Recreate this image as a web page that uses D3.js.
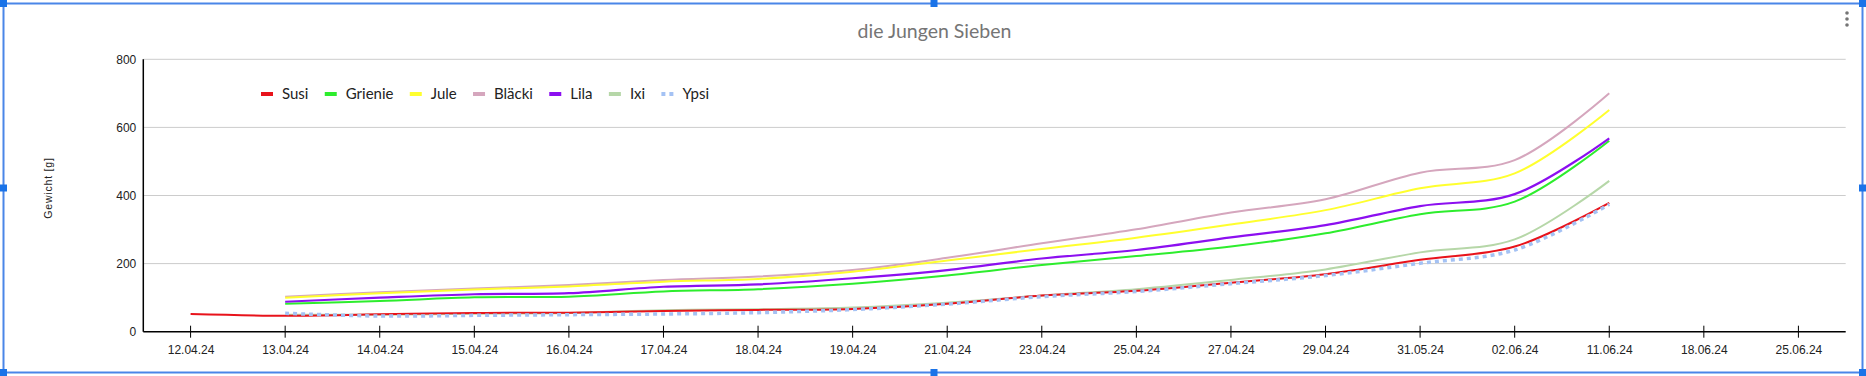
<!DOCTYPE html>
<html><head><meta charset="utf-8">
<script src="https://cdn.jsdelivr.net/npm/d3@7"></script>
<style>
html,body{margin:0;padding:0;background:#fff;}
svg{display:block;}
</style></head>
<body>
<svg id="chart" width="1866" height="376"></svg>
<script>
const categories = ["12.04.24","13.04.24","14.04.24","15.04.24","16.04.24","17.04.24","18.04.24","19.04.24","21.04.24","23.04.24","25.04.24","27.04.24","29.04.24","31.05.24","02.06.24","11.06.24","18.06.24","25.06.24"];
const yTicks = [0,200,400,600,800];
const seriesNames = ["Susi","Grienie","Jule","Bläcki","Lila","Ixi","Ypsi"];
const susi    = [52,47,51,55,56,61,64,67,82,106,120,144,169,211,250,378,null,null];
const grienie = [null,82,90,101,103,118,125,141,165,196,222,250,289,345,382,561,null,null];
const jule    = [null,100,113,124,133,147,155,176,209,243,276,315,357,421,465,651,null,null];
const blaecki = [null,103,116,127,137,152,162,181,217,260,301,350,389,467,504,700,null,null];
const lila    = [null,88,100,110,113,132,139,157,181,215,240,277,313,369,404,568,null,null];
const ixi     = [null,50,50,53,55,63,66,71,85,106,125,152,183,233,271,443,null,null];
const ypsi    = [null,54,46,48,50,52,56,65,81,103,118,141,165,201,240,374,null,null];
const seriesValues = [susi,grienie,jule,blaecki,lila,ixi,ypsi];
const colors = ["#e8131b","#2ded2d","#ffff2e","#d5a6bd","#8c0ff0","#b6d7a8","#a4c2f4"];
const widths = [2,2,2,2,2.2,2,3.5];
const dashes = [null,null,null,null,null,null,"4,4"];

const svg = d3.select("#chart");
const L = 143.3, R = 1845.7, T = 59.3, B = 331.7;

const x = d3.scalePoint().domain(categories).range([L,R]).padding(0.5);
const y = d3.scaleLinear().domain([0,800]).range([B,T]);

svg.append("rect").attr("width",1866).attr("height",376).attr("fill","#fff");

// title
svg.append("text").attr("x",934.5).attr("y",38).attr("text-anchor","middle")
  .attr("font-family","Lato, sans-serif").attr("font-size",19.5).attr("fill","#757575")
  .text("die Jungen Sieben");

// gridlines
svg.append("g").selectAll("line").data(yTicks.filter(d=>d>0)).join("line")
  .attr("x1",L).attr("x2",R).attr("y1",d=>y(d)).attr("y2",d=>y(d))
  .attr("stroke","#cccccc").attr("stroke-width",1);

// y axis
const yAxis = svg.append("g").attr("transform",`translate(${L},0)`)
  .call(d3.axisLeft(y).tickValues(yTicks).tickSize(0).tickPadding(7));
yAxis.select(".domain").remove();
yAxis.selectAll("text").attr("font-family","Liberation Sans, Arial, sans-serif").attr("font-size",12).attr("fill","#222");
svg.append("line").attr("x1",L).attr("x2",L).attr("y1",T).attr("y2",B).attr("stroke","#000").attr("stroke-width",1.5);

// y title
svg.append("text").attr("transform","translate(52,188) rotate(-90)").attr("text-anchor","middle")
  .attr("font-family","Liberation Sans, Arial, sans-serif").attr("font-size",10.5).attr("letter-spacing",0.8)
  .attr("fill","#222").text("Gewicht [g]");

// lines
const line = d3.line().defined(d=>d.v!=null).x(d=>x(d.c)).y(d=>y(d.v)).curve(d3.curveCatmullRom.alpha(0.5));
const order = [3,2,1,4,5,0,6];
order.forEach(i=>{
  const data = categories.map((c,k)=>({c, v: seriesValues[i][k]}));
  const p = svg.append("path").attr("d",line(data)).attr("fill","none")
    .attr("stroke",colors[i]).attr("stroke-width",widths[i]).attr("stroke-linejoin","round");
  if(dashes[i]) p.attr("stroke-dasharray",dashes[i]);
});

// x axis
const xAxis = svg.append("g").attr("transform",`translate(0,${B})`)
  .call(d3.axisBottom(x).tickSize(0).tickPadding(14));
xAxis.select(".domain").remove();
xAxis.selectAll("text").attr("font-family","Liberation Sans, Arial, sans-serif").attr("font-size",12).attr("fill","#222");
svg.append("line").attr("x1",L).attr("x2",R).attr("y1",B).attr("y2",B).attr("stroke","#000").attr("stroke-width",1.5);
svg.append("g").selectAll("line").data(categories).join("line")
  .attr("x1",d=>x(d)).attr("x2",d=>x(d)).attr("y1",B-6).attr("y2",B+6).attr("stroke","#000").attr("stroke-width",1);

// legend
const lg = svg.append("g");
let lx = 261;
seriesNames.forEach((n,i)=>{
  const g = lg.append("g").attr("transform",`translate(${lx},94)`);
  if(dashes[i]){
    g.append("rect").attr("x",0).attr("y",-2).attr("width",4).attr("height",4).attr("fill",colors[i]);
    g.append("rect").attr("x",8).attr("y",-2).attr("width",4).attr("height",4).attr("fill",colors[i]);
  } else {
    g.append("rect").attr("x",0).attr("y",-2).attr("width",12).attr("height",4).attr("fill",colors[i]);
  }
  const t = g.append("text").attr("x",21).attr("y",5).attr("font-family","Lato, sans-serif")
    .attr("font-size",15).attr("fill","#222").text(n);
  lx += 21 + t.node().getComputedTextLength() + 16.3;
});

// selection frame
svg.append("rect").attr("x",3.5).attr("y",3.5).attr("width",1859).attr("height",369)
  .attr("fill","none").attr("stroke","#4a86e8").attr("stroke-width",2);
const handles = [[3.5,3.5],[934,3.5],[1862.5,3.5],[3.5,188],[1862.5,188],[3.5,372.5],[934,372.5],[1862.5,372.5]];
svg.append("g").selectAll("rect").data(handles).join("rect")
  .attr("x",d=>d[0]-3.5).attr("y",d=>d[1]-3.5).attr("width",7).attr("height",7).attr("fill","#1a73e8");
// menu dots
svg.append("g").selectAll("circle").data([13,19,25]).join("circle")
  .attr("cx",1847).attr("cy",d=>d).attr("r",1.8).attr("fill","#757575");
</script>
</body></html>
